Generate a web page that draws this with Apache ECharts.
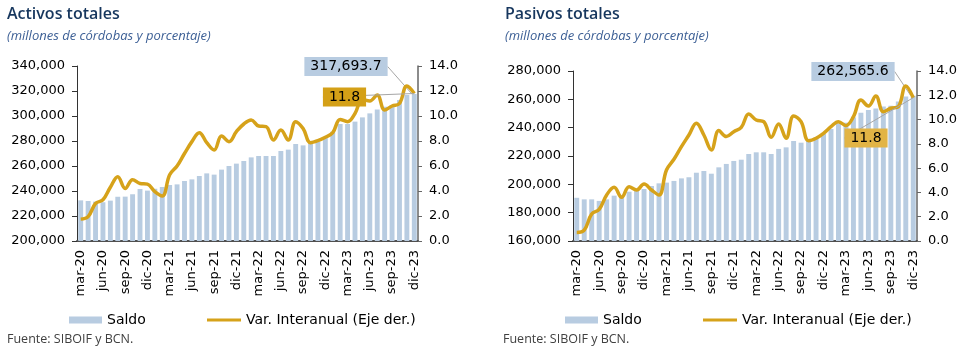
<!DOCTYPE html>
<html>
<head>
<meta charset="utf-8">
<script src="https://cdn.jsdelivr.net/npm/echarts@6/dist/echarts.min.js"></script>
<style>
  html, body { margin: 0; padding: 0; background: #fff; }
  #main { width: 969px; height: 353px; }
</style>
</head>
<body>
<div id="main"></div>
<script>
// months, mar-20 .. dic-23
var months = ['mar-20','abr-20','may-20','jun-20','jul-20','ago-20','sep-20','oct-20','nov-20','dic-20',
  'ene-21','feb-21','mar-21','abr-21','may-21','jun-21','jul-21','ago-21','sep-21','oct-21','nov-21','dic-21',
  'ene-22','feb-22','mar-22','abr-22','may-22','jun-22','jul-22','ago-22','sep-22','oct-22','nov-22','dic-22',
  'ene-23','feb-23','mar-23','abr-23','may-23','jun-23','jul-23','ago-23','sep-23','oct-23','nov-23','dic-23']

var activosSaldo = [232500, 232000, 231500, 231000, 232300, 235400, 235500, 237400, 241600, 240300,
  241800, 243200, 244800, 245300, 248000, 249300, 252000, 254100, 253100, 257100, 260000, 261900,
  264000, 266900, 268000, 268000, 268000, 272000, 273100, 277600, 276500, 277600, 279500, 282900,
  287500, 293600, 293600, 295500, 298900, 302100, 305300, 307500, 308800, 312800, 316800, 317693.7]
var activosVar = [1.75, 1.95, 3.0, 3.3, 4.3, 5.15, 4.2, 4.9, 4.6, 4.55,
  3.95, 3.6, 5.3, 6.0, 7.0, 7.95, 8.67, 7.87, 7.28, 8.4, 7.95, 8.75,
  9.36, 9.68, 9.2, 9.15, 8.08, 8.88, 8.08, 9.55, 9.0, 7.87, 8.03, 8.3,
  8.67, 9.73, 9.55, 10.2, 11.33, 11.2, 11.68, 10.48, 10.8, 11.0, 12.4, 11.8]

var pasivosSaldo = [190500, 189400, 189400, 188300, 189400, 192000, 192500, 194800, 196500, 196700,
  198800, 200700, 201200, 202400, 204200, 205000, 208200, 209400, 207500, 212000, 214400, 216500,
  217400, 221400, 222600, 222600, 221400, 225000, 226100, 230600, 229400, 231300, 233200, 235500,
  239100, 243100, 243500, 247300, 250500, 252500, 253500, 255000, 255500, 258500, 262000, 262565.6]
var pasivosVar = [0.71, 0.9, 2.22, 2.6, 3.79, 4.42, 3.6, 4.47, 4.2, 4.7,
  4.2, 3.79, 5.85, 6.73, 7.77, 8.73, 9.7, 8.73, 7.5, 9.09, 8.6, 9.0,
  9.35, 10.46, 9.97, 9.83, 8.54, 9.64, 8.46, 10.3, 9.83, 8.26, 8.46, 8.87,
  9.41, 9.83, 9.5, 10.24, 11.61, 11.12, 11.94, 10.65, 10.93, 11.06, 12.77, 11.8]

var BAR = '#b8cce1'
var GOLD = '#d6a21a'
var AX = '#505050'
var FONT = 'DejaVu Sans'
var SALDO = 'Saldo'
var VAR = 'Var. Interanual (Eje der.)'

function fmt1 (v) {
  return v.toLocaleString('en-US', { minimumFractionDigits: 1, maximumFractionDigits: 1 })
}

// only the last point carries a label
function lastLabel (arr, label) {
  return arr.map(function (v, i) {
    return i === arr.length - 1 ? { value: v, label: label } : v
  })
}

function xAxis (gi) {
  return {
    type: 'category', gridIndex: gi, data: months, boundaryGap: true,
    axisLine: { lineStyle: { color: AX, width: 2 } },
    axisTick: { interval: 2, length: 4, lineStyle: { color: AX } },
    axisLabel: { interval: 2, rotate: 90, margin: 9, fontFamily: FONT, fontSize: 13, color: '#000' }
  }
}

function yLeft (gi, min, max) {
  return {
    type: 'value', gridIndex: gi, min: min, max: max, interval: 20000, position: 'left',
    splitLine: { show: false },
    axisLine: { show: true, lineStyle: { color: '#333', width: 1 } },
    axisTick: { show: true, length: 5, lineStyle: { color: '#333' } },
    axisLabel: { margin: 12, fontFamily: FONT, fontSize: 13, color: '#000',
      formatter: function (v) { return v.toLocaleString('en-US') } }
  }
}

function yRight (gi) {
  return {
    type: 'value', gridIndex: gi, min: 0, max: 14, interval: 2, position: 'right',
    splitLine: { show: false },
    axisLine: { show: true, lineStyle: { color: '#666', width: 1.5 } },
    axisTick: { show: true, length: 4, lineStyle: { color: '#666' } },
    axisLabel: { margin: 11, fontFamily: FONT, fontSize: 13, color: '#000',
      formatter: function (v) { return v.toFixed(1) } }
  }
}

function boxLabel (bg, fmt) {
  return {
    show: true, fontFamily: FONT, fontSize: 14, color: '#000',
    backgroundColor: bg, padding: [3, 6, 2, 6], formatter: fmt
  }
}

var guide = { show: true, lineStyle: { color: '#a6a6a6', width: 1 } }

function barSeries (gi, yi, data, lx, ly) {
  return {
    name: SALDO, type: 'bar', xAxisIndex: gi, yAxisIndex: yi, barWidth: '66%',
    itemStyle: { color: BAR },
    data: lastLabel(data, boxLabel(BAR, function (p) { return fmt1(p.value) })),
    labelLine: guide,
    labelLayout: { x: lx, y: ly, align: 'center', verticalAlign: 'middle' },
    z: 2
  }
}

function lineSeries (gi, yi, data, bg, lx, ly) {
  return {
    name: VAR, type: 'line', xAxisIndex: gi, yAxisIndex: yi,
    smooth: 0.4, symbol: 'circle', symbolSize: 0, showSymbol: true, showAllSymbol: true,
    lineStyle: { color: GOLD, width: 3.5 }, itemStyle: { color: GOLD },
    data: lastLabel(data, boxLabel(bg, function (p) { return fmt1(p.value) })),
    labelLine: guide,
    labelLayout: { x: lx, y: ly, align: 'center', verticalAlign: 'middle' },
    z: 3
  }
}

function titleBlock (x, text) {
  return {
    text: text, left: x, top: 6, padding: 0, itemGap: 8,
    textStyle: { fontFamily: 'Open Sans', fontSize: 16, fontWeight: 600, color: '#17375e' },
    subtext: '(millones de córdobas y porcentaje)',
    subtextStyle: { fontFamily: 'Open Sans', fontStyle: 'italic', fontSize: 13, color: '#3c5f95' }
  }
}

function source (x) {
  return {
    text: 'Fuente: SIBOIF y BCN.', left: x, top: 333, padding: 0,
    textStyle: { fontFamily: 'Open Sans', fontSize: 12.5, fontWeight: 'normal', color: '#404040' }
  }
}

// two legends per panel: a flat bar swatch and a thin line swatch
function legends (x, xLine) {
  var ts = { fontFamily: FONT, fontSize: 14, color: '#000' }
  return [
    { left: x, top: 313, padding: 0, itemWidth: 33, itemHeight: 7, itemGap: 0,
      data: [{ name: SALDO, icon: 'rect' }], textStyle: ts },
    { left: xLine, top: 313, padding: 0, itemWidth: 34, itemHeight: 3, itemGap: 0,
      data: [{ name: VAR, icon: 'rect' }], textStyle: ts }
  ]
}

var chart = echarts.init(document.getElementById('main'))
chart.setOption({
  animation: false,
  backgroundColor: '#fff',
  title: [titleBlock(7, 'Activos totales'), titleBlock(505, 'Pasivos totales'), source(7), source(503)],
  legend: legends(69, 207).concat(legends(565, 703)),
  grid: [
    { left: 77, top: 66, width: 341, height: 175 },
    { left: 573, top: 71, width: 344, height: 170 }
  ],
  xAxis: [xAxis(0), xAxis(1)],
  yAxis: [yLeft(0, 200000, 340000), yRight(0), yLeft(1, 160000, 280000), yRight(1)],
  series: [
    barSeries(0, 0, activosSaldo, 346, 66.5),
    lineSeries(0, 1, activosVar, '#d4a017', 344.5, 97),
    barSeries(1, 2, pasivosSaldo, 853, 71.5),
    lineSeries(1, 3, pasivosVar, '#e2b445', 866, 138)
  ]
})
</script>
</body>
</html>
